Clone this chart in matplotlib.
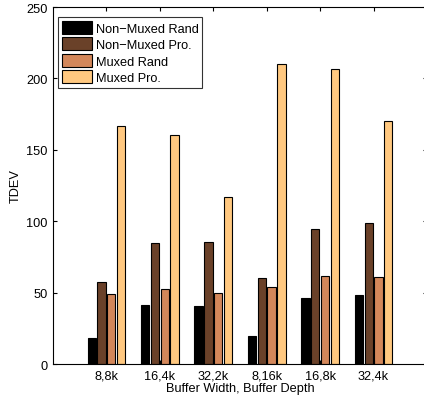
import numpy as np
import matplotlib.pyplot as plt

plt.rcParams['font.family'] = ['Liberation Sans', 'DejaVu Sans']

configs = ['8,8k', '16,4k', '32,2k', '8,16k', '16,8k', '32,4k']
series = ['Non\u2212Muxed Rand', 'Non\u2212Muxed Pro.', 'Muxed Rand', 'Muxed Pro.']
nonmux_rand = [18.5, 41.3, 40.6, 19.5, 46.0, 48.3]
nonmux_pro = [57.6, 84.7, 85.2, 60.2, 94.3, 98.5]
mux_rand = [49.2, 52.5, 49.9, 53.9, 61.4, 60.9]
mux_pro = [166.9, 160.1, 116.7, 210.3, 206.3, 170.2]
colors = ['#000000', '#6a4129', '#d3875a', '#ffc880']

values = [nonmux_rand, nonmux_pro, mux_rand, mux_pro]

fig = plt.figure(figsize=(4.24, 4.02), dpi=100)
ax = fig.add_axes([0.125, 0.092, 0.882, 0.888])

x = np.arange(1, len(configs) + 1)
w = 0.155
step = 0.183
for i, (vals, lab, c) in enumerate(zip(values, series, colors)):
    ax.bar(x + (i - 1.5) * step, vals, w, color=c, edgecolor='black',
           linewidth=0.8, label=lab)

fs = 9.2
ax.set_xlim(0, 7)
ax.set_ylim(0, 250)
ax.set_xticks(x)
ax.set_xticklabels(configs)
ax.set_yticks([0, 50, 100, 150, 200, 250])
ax.tick_params(direction='in', top=True, right=True, labelsize=fs, length=3, pad=4)
ax.spines['right'].set_visible(False)
ax.set_xlabel('Buffer Width, Buffer Depth', fontsize=fs, labelpad=0)
ax.set_ylabel('TDEV', fontsize=fs, labelpad=3)

leg = ax.legend(loc='upper left', bbox_to_anchor=(0.013, 0.972), fontsize=fs,
                frameon=True, fancybox=False, edgecolor='black',
                handlelength=2.4, handleheight=1.2, handletextpad=0.25,
                labelspacing=0.2, borderpad=0.3, borderaxespad=0)
leg.get_frame().set_linewidth(0.8)

fig.savefig('out.png', dpi=100)
